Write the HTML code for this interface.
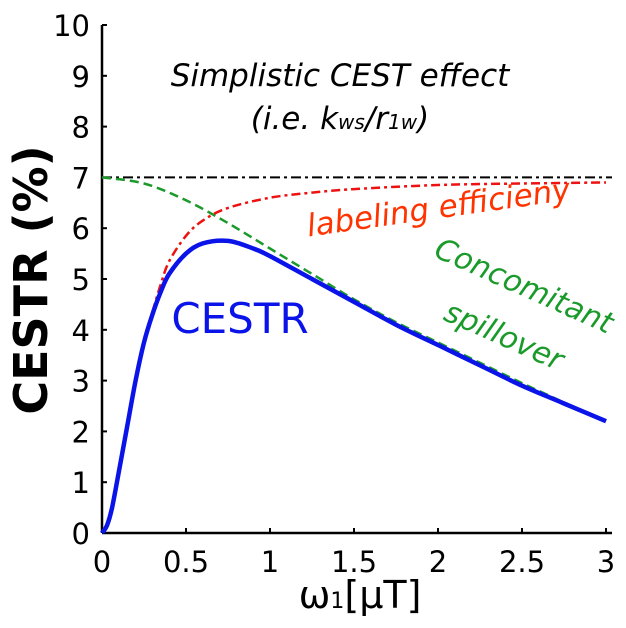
<!DOCTYPE html>
<html><head><meta charset="utf-8"><style>
body{margin:0;background:#fff}
svg text{font-family:"DejaVu Sans","Liberation Sans",sans-serif}
</style></head><body>
<svg id="c" width="626" height="623" xmlns="http://www.w3.org/2000/svg"></svg>
<script>
const xTicks=[0,0.5,1,1.5,2,2.5,3];
const xTickLabels=["0","0.5","1","1.5","2","2.5","3"];
const yTicks=[0,1,2,3,4,5,6,7,8,9,10];
const cestrX=[0,0.03,0.06,0.1,0.15,0.2,0.25,0.3,0.35,0.4,0.5,0.6,0.75,0.9,1,1.25,1.5,1.75,2,2.25,2.5,2.75,3];
const cestrY=[0,0.15,0.5,1.2,2.1,3.0,3.75,4.3,4.75,5.1,5.5,5.7,5.75,5.6,5.45,5.0,4.55,4.1,3.7,3.3,2.9,2.55,2.2];
const effX=[0.3,0.35,0.4,0.5,0.6,0.75,1,1.25,1.5,2,2.5,3];
const effY=[4.35,4.9,5.35,5.85,6.15,6.4,6.6,6.7,6.77,6.85,6.88,6.9];
const spillX=[0,0.25,0.5,0.75,1,1.25,1.5,1.75,2,2.25,2.5,2.75,3];
const spillY=[7,6.88,6.55,6.1,5.6,5.1,4.6,4.15,3.75,3.35,2.95,2.57,2.2];
const simpleY=7;
const NS="http://www.w3.org/2000/svg",svg=document.getElementById('c');
const X=v=>102+v*168, Y=v=>533-v*50.8;
function mk(t,a,p){const e=document.createElementNS(NS,t);for(const k in a)e.setAttribute(k,a[k]);(p||svg).appendChild(e);return e;}
let e;
e=mk('line',{x1:102,y1:Y(0),x2:612,y2:Y(0),stroke:'#000','stroke-width':2.5});

e=mk('line',{x1:102,y1:Y(0),x2:102,y2:Y(10),stroke:'#000','stroke-width':2.5});

xTicks.forEach((v,i)=>{
 mk('line',{x1:X(v),y1:Y(0),x2:X(v),y2:Y(0)-5,stroke:'#000','stroke-width':2});
 e=mk('text',{x:X(v),y:572,'text-anchor':'middle','font-size':29});e.textContent=xTickLabels[i];
 
});
yTicks.forEach(v=>{
 mk('line',{x1:102,y1:Y(v),x2:107,y2:Y(v),stroke:'#000','stroke-width':2});
 e=mk('text',{x:90,y:Y(v)+11,'text-anchor':'end','font-size':29});e.textContent=String(v);
 
});
function path(xs,ys){
 const p=xs.map((x,i)=>[X(x),Y(ys[i])]);
 let d='M'+p[0][0].toFixed(1)+','+p[0][1].toFixed(1);
 for(let i=0;i<p.length-1;i++){
  const p0=p[Math.max(i-1,0)],p1=p[i],p2=p[i+1],p3=p[Math.min(i+2,p.length-1)];
  const c1=[p1[0]+(p2[0]-p0[0])/6,p1[1]+(p2[1]-p0[1])/6];
  const c2=[p2[0]-(p3[0]-p1[0])/6,p2[1]-(p3[1]-p1[1])/6];
  d+='C'+c1.map(v=>v.toFixed(1))+' '+c2.map(v=>v.toFixed(1))+' '+p2.map(v=>v.toFixed(1));
 }
 return d;
}
e=mk('line',{x1:X(0),y1:Y(simpleY),x2:612,y2:Y(simpleY),stroke:'#000','stroke-width':2,'stroke-dasharray':'10,4,3,4'});

e=mk('path',{d:path(spillX,spillY),fill:'none',stroke:'#1a9a2a','stroke-width':2.5,'stroke-dasharray':'9,5'});

e=mk('path',{d:path(effX,effY),fill:'none',stroke:'#ee1111','stroke-width':2.5,'stroke-dasharray':'9,4,3,4'});

e=mk('path',{d:path(cestrX,cestrY),fill:'none',stroke:'#0a14e8','stroke-width':4.5});

function txt(s,a,n){const t=mk('text',a);t.textContent=s;return t;}
txt('Simplistic CEST effect',{x:340,y:86,'text-anchor':'middle','font-size':31,'font-style':'italic'},'annotation-title');
const t2=txt('',{x:340,y:129,'text-anchor':'middle','font-size':31,'font-style':'italic'},'annotation-subtitle');
t2.innerHTML='(i.e. k<tspan font-size="20">ws</tspan>/r<tspan font-size="20">1w</tspan>)';
txt('labeling efficieny',{x:440,y:218,'text-anchor':'middle','font-size':31,'font-style':'italic',fill:'#ff3300',transform:'rotate(-8 440 218)'},'labeling-efficiency-label');
txt('Concomitant',{x:520,y:295,'text-anchor':'middle','font-size':30,'font-style':'italic',fill:'#1a9a2a',transform:'rotate(24 520 295)'},'spillover-label-1');
txt('spillover',{x:500,y:345,'text-anchor':'middle','font-size':30,'font-style':'italic',fill:'#1a9a2a',transform:'rotate(24 500 345)'},'spillover-label-2');
txt('CESTR',{x:240,y:333,'text-anchor':'middle','font-size':42,fill:'#0a14e8'},'cestr-label');
txt('CESTR (%)',{x:47,y:280,'text-anchor':'middle','font-size':46,'font-weight':'bold',transform:'rotate(-90 47 280)'},'y-axis-title');
const xl=txt('',{x:360,y:608,'text-anchor':'middle','font-size':38},'x-axis-title');
xl.innerHTML='ω<tspan font-size="22">1</tspan>[μT]';
</script>
</body></html>
